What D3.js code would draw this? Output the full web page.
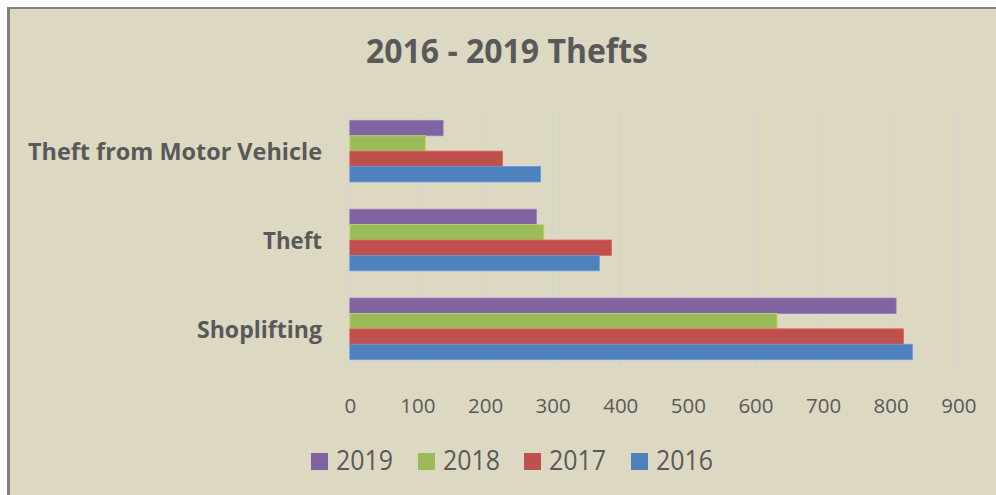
<!DOCTYPE html>
<html><head><meta charset="utf-8">
<script src="https://cdn.jsdelivr.net/npm/d3@7"></script>
<style>html,body{margin:0;padding:0;background:#fff;}svg{display:block;}</style>
</head><body>
<script>
const categories = ["Theft from Motor Vehicle", "Theft", "Shoplifting"];
const series = ["2019", "2018", "2017", "2016"];
const values2019 = [138, 276, 808];
const values2018 = [112, 287, 632];
const values2017 = [226, 387, 819];
const values2016 = [282, 369, 832];
const xTicks = [0, 100, 200, 300, 400, 500, 600, 700, 800, 900];
const colors = ["#8064A2", "#9BBB59", "#C0504D", "#4F81BD"];
const valuesBySeries = [values2019, values2018, values2017, values2016];

const W = 996, H = 495;
const font = "'Open Sans', Lato, sans-serif";
const textColor = "#595959";
const svg = d3.select("body").append("svg").attr("width", W).attr("height", H);

// chart area background + border (top and left visible)
svg.append("rect").attr("x", 0).attr("y", 0).attr("width", W).attr("height", H).attr("fill", "#fff");
svg.append("rect").attr("x", 9).attr("y", 8).attr("width", W - 9).attr("height", H - 8).attr("fill", "#DDD8C2");
svg.append("line").attr("x1", 7).attr("x2", W).attr("y1", 8).attr("y2", 8).attr("stroke", "#808080").attr("stroke-width", 2);
svg.append("line").attr("x1", 8.5).attr("x2", 8.5).attr("y1", 7).attr("y2", H).attr("stroke", "#808080").attr("stroke-width", 3);

const x = d3.scaleLinear().domain([0, 900]).range([349.8, 958.3]);
const y0 = d3.scaleBand().domain(categories).range([106.7, 373.3]).padding(0);
const y1 = d3.scaleBand().domain(series).range([0, y0.bandwidth()]).paddingInner(0).paddingOuter(0.886);

// gridlines
svg.append("g").selectAll("line").data(xTicks).join("line")
  .attr("x1", d => x(d)).attr("x2", d => x(d))
  .attr("y1", 106.7).attr("y2", 373.3)
  .attr("stroke", "#D4D4D4").attr("stroke-width", 1.3);

// bars
const rows = [];
categories.forEach((c, ci) => series.forEach((s, si) => rows.push({c, s, v: valuesBySeries[si][ci], col: colors[si]})));
svg.append("g").selectAll("rect").data(rows).join("rect")
  .attr("x", x(0))
  .attr("y", d => y0(d.c) + y1(d.s))
  .attr("width", d => x(d.v) - x(0))
  .attr("height", y1.bandwidth())
  .attr("fill", d => d.col)
  .attr("stroke", d => d3.color(d.col).brighter(0.5))
  .attr("stroke-width", 0.8);

// x axis labels
const xAxis = d3.axisBottom(x).tickValues(xTicks).tickSize(0).tickPadding(0);
const gx = svg.append("g").attr("transform", "translate(0,412.7)").call(xAxis);
gx.select(".domain").remove();
gx.selectAll("text").attr("font-family", font).attr("font-size", 20.5).attr("fill", textColor).attr("dy", 0).attr("y", 0);

// y axis labels
const catWidths = {"Theft from Motor Vehicle": 294, "Theft": 59, "Shoplifting": 125};
const yAxis = d3.axisLeft(y0).tickSize(0).tickPadding(0);
const gy = svg.append("g").attr("transform", "translate(322,0)").call(yAxis);
gy.select(".domain").remove();
gy.selectAll("text").attr("font-family", font).attr("font-size", 24).attr("font-weight", "bold").attr("fill", textColor)
  .attr("dy", "0.36em").attr("textLength", d => catWidths[d]).attr("lengthAdjust", "spacingAndGlyphs");

// title
svg.append("text").attr("x", 507).attr("y", 63).attr("text-anchor", "middle")
  .attr("font-family", font).attr("font-size", 34).attr("font-weight", "bold").attr("fill", textColor)
  .attr("textLength", 282).attr("lengthAdjust", "spacingAndGlyphs")
  .text("2016 - 2019 Thefts");

// legend
const legendX = [311, 418, 524, 631];
const lg = svg.append("g").selectAll("g").data(series).join("g")
  .attr("transform", (d, i) => `translate(${legendX[i]},453)`);
lg.append("rect").attr("width", 17).attr("height", 17).attr("fill", (d, i) => colors[i]);
lg.append("text").attr("x", 25).attr("y", 17).attr("font-family", font).attr("font-size", 27).attr("fill", textColor)
  .attr("textLength", 57).attr("lengthAdjust", "spacingAndGlyphs").text(d => d);
</script>
</body></html>
